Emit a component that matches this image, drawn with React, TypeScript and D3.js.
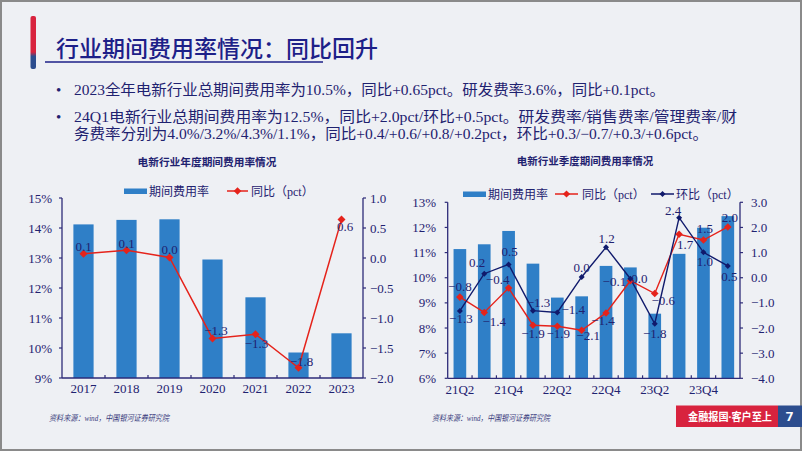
import React from 'react';
import * as d3 from 'd3';

// ---------- data ----------
const years = ['2017', '2018', '2019', '2020', '2021', '2022', '2023'];
const annualRate = [14.12, 14.27, 14.29, 12.95, 11.69, 9.85, 10.49];
const annualYoY = [0.07, 0.13, 0.01, -1.34, -1.27, -1.83, 0.64];
const annualLeftTicks = [9, 10, 11, 12, 13, 14, 15];
const annualRightTicks = [-2, -1.5, -1, -0.5, 0, 0.5, 1];

const quarters = ['21Q2', '21Q3', '21Q4', '22Q1', '22Q2', '22Q3', '22Q4', '23Q1', '23Q2', '23Q3', '23Q4', '24Q1'];
const quarterTickLabels = ['21Q2', '21Q4', '22Q2', '22Q4', '23Q2', '23Q4'];
const qRate = [11.14, 11.33, 11.86, 10.56, 9.21, 9.26, 10.47, 10.41, 8.57, 10.95, 11.99, 12.45];
const qYoY = [-0.77, -1.38, -0.41, -1.89, -1.93, -2.09, -1.4, -0.12, -0.63, 1.73, 1.5, 2.02];
const qQoQ = [-1.32, 0.16, 0.53, -1.31, -1.38, 0.03, 1.21, -0.04, -1.83, 2.39, 1.01, 0.47];
const qLeftTicks = [6, 7, 8, 9, 10, 11, 12, 13];
const qRightTicks = [-4, -3, -2, -1, 0, 1, 2, 3];

// ---------- label placement (layout only) ----------
const annualLabelOffset: [number, number][] = [[0, -7], [0, -7], [0, -8], [3.5, -7.5], [1, 9], [3, -6.5], [3.5, 7]];
const qYoYLabelOffset: [number, number][] = [[0, -11], [10, 9.5], [-11, -9], [0, 8.5], [1, 7], [6.5, 5.5], [-3, 7.5], [-16, 1], [8.5, 6.5], [6, 10.5], [1.5, -11.5], [2, -9.5]];
const qQoQLabelOffset: [number, number][] = [[1, 7.5], [-7, -11.5], [1, -12.5], [5.5, -8], [16, -3], [0, -9.5], [0.5, -9], [9, 0], [0, 9.5], [-6, -7], [1.5, 9.5], [1.5, 10.5]];

// ---------- styles ----------
const BG = '#eef0f4';
const NAVY = '#1f2270';
const AXIS = '#2d2b78';
const BAR = '#2f7fc7';
const RED = '#e5231b';
const DARKBLUE = '#101a6c';
const SERIF = '"Liberation Serif", "Times New Roman", "Noto Sans CJK SC", serif';
const CJK = '"Liberation Serif", "Noto Sans CJK SC", sans-serif';
const fmt = d3.format('.1f');

function diamond(x: number, y: number, r: number) {
  return `M${x},${y - r}L${x + r},${y}L${x},${y + r}L${x - r},${y}Z`;
}

function AnnualChart() {
  const left = 62, right = 363, top = 198, bottom = 378;
  const x = d3.scaleBand<string>().domain(years).range([left, right]).paddingInner(0.53).paddingOuter(0.265);
  const yL = d3.scaleLinear().domain([9, 15]).range([bottom, top]);
  const yR = d3.scaleLinear().domain([-2, 1]).range([bottom, top]);
  const cx = (d: string) => (x(d) as number) + x.bandwidth() / 2;
  const line = d3.line<number>().x((_, i) => cx(years[i])).y(v => yR(v));
  const step = x.step();
  return (
    <g>
      <text x={207} y={165.5} textAnchor="middle" fontFamily={CJK} fontSize={10.7} fontWeight="bold" fill={NAVY}>电新行业年度期间费用率情况</text>
      {/* legend */}
      <rect x={124} y={188.5} width={23} height={5.5} fill={BAR} />
      <text x={149} y={195.5} fontFamily={CJK} fontSize={12} fill={NAVY}>期间费用率</text>
      <line x1={227} x2={248} y1={191} y2={191} stroke={RED} strokeWidth={1.5} />
      <path d={diamond(237.5, 191, 3.8)} fill={RED} />
      <text x={251} y={195.5} fontFamily={CJK} fontSize={12} fill={NAVY}>同比（pct）</text>
      {/* bars */}
      {years.map((d, i) => (
        <rect key={d} x={x(d)} y={yL(annualRate[i])} width={x.bandwidth()} height={bottom - yL(annualRate[i])} fill={BAR} />
      ))}
      {/* axes */}
      <line x1={left} x2={left} y1={top} y2={bottom} stroke={AXIS} strokeWidth={1.3} />
      <line x1={right} x2={right} y1={top} y2={bottom} stroke={AXIS} strokeWidth={1.3} />
      <line x1={left} x2={right} y1={bottom} y2={bottom} stroke={AXIS} strokeWidth={1.3} />
      {annualLeftTicks.map(t => (
        <g key={'l' + t}>
          <line x1={left - 3} x2={left} y1={yL(t)} y2={yL(t)} stroke={AXIS} strokeWidth={1.2} />
          <text x={52} y={yL(t)} dy="0.35em" textAnchor="end" fontFamily={SERIF} fontSize={13} fill={NAVY}>{t}%</text>
        </g>
      ))}
      {annualRightTicks.map(t => (
        <g key={'r' + t}>
          <line x1={right} x2={right + 3} y1={yR(t)} y2={yR(t)} stroke={AXIS} strokeWidth={1.2} />
          <text x={370} y={yR(t)} dy="0.35em" fontFamily={SERIF} fontSize={13} fill={NAVY}>{fmt(t)}</text>
        </g>
      ))}
      {years.slice(1).map((d, i) => (
        <line key={'bt' + d} x1={left + step * (i + 1)} x2={left + step * (i + 1)} y1={bottom} y2={bottom - 3} stroke={AXIS} strokeWidth={1.2} />
      ))}
      {years.map(d => (
        <text key={'xl' + d} x={cx(d)} y={392.5} textAnchor="middle" fontFamily={SERIF} fontSize={13} fill={NAVY}>{d}</text>
      ))}
      {/* line */}
      <path d={line(annualYoY) as string} fill="none" stroke={RED} strokeWidth={1.5} />
      {annualYoY.map((v, i) => (
        <path key={'dm' + i} d={diamond(cx(years[i]), yR(v), 4)} fill={RED} />
      ))}
      {annualYoY.map((v, i) => (
        <text key={'lb' + i} x={cx(years[i]) + annualLabelOffset[i][0]} y={yR(v) + annualLabelOffset[i][1]} dy="0.35em" textAnchor="middle" fontFamily={SERIF} fontSize={13} fill={NAVY}>{fmt(v)}</text>
      ))}
    </g>
  );
}

function QuarterChart() {
  const left = 447.7, right = 740, top = 202.3, bottom = 378.3;
  const x = d3.scaleBand<string>().domain(quarters).range([left, right]).paddingInner(0.48).paddingOuter(0.24);
  const yL = d3.scaleLinear().domain([6, 13]).range([bottom, top]);
  const yR = d3.scaleLinear().domain([-4, 3]).range([bottom, top]);
  const cx = (d: string) => (x(d) as number) + x.bandwidth() / 2;
  const line = d3.line<number>().x((_, i) => cx(quarters[i])).y(v => yR(v));
  const step = x.step();
  return (
    <g>
      <text x={585} y={165} textAnchor="middle" fontFamily={CJK} fontSize={10.5} fontWeight="bold" fill={NAVY}>电新行业季度期间费用率情况</text>
      {/* legend */}
      <rect x={463} y={191.5} width={23} height={5.5} fill={BAR} />
      <text x={488} y={198.5} fontFamily={CJK} fontSize={12} fill={NAVY}>期间费用率</text>
      <line x1={555} x2={578} y1={194} y2={194} stroke={RED} strokeWidth={1.5} />
      <path d={diamond(566.5, 194, 3.6)} fill={RED} />
      <text x={582} y={198.5} fontFamily={CJK} fontSize={12} fill={NAVY}>同比（pct）</text>
      <line x1={651} x2={674} y1={194} y2={194} stroke={DARKBLUE} strokeWidth={1.5} />
      <path d={diamond(662.5, 194, 3)} fill={DARKBLUE} />
      <text x={676} y={198.5} fontFamily={CJK} fontSize={12} fill={NAVY}>环比（pct）</text>
      {/* bars */}
      {quarters.map((d, i) => (
        <rect key={d} x={x(d)} y={yL(qRate[i])} width={x.bandwidth()} height={bottom - yL(qRate[i])} fill={BAR} />
      ))}
      {/* axes */}
      <line x1={left} x2={left} y1={top} y2={bottom} stroke={AXIS} strokeWidth={1.3} />
      <line x1={right} x2={right} y1={top} y2={bottom} stroke={AXIS} strokeWidth={1.3} />
      <line x1={left} x2={right} y1={bottom} y2={bottom} stroke={AXIS} strokeWidth={1.3} />
      {qLeftTicks.map(t => (
        <g key={'l' + t}>
          <line x1={left - 3} x2={left} y1={yL(t)} y2={yL(t)} stroke={AXIS} strokeWidth={1.2} />
          <text x={436} y={yL(t)} dy="0.35em" textAnchor="end" fontFamily={SERIF} fontSize={13} fill={NAVY}>{t}%</text>
        </g>
      ))}
      {qRightTicks.map(t => (
        <g key={'r' + t}>
          <line x1={right} x2={right + 3} y1={yR(t)} y2={yR(t)} stroke={AXIS} strokeWidth={1.2} />
          <text x={751} y={yR(t)} dy="0.35em" fontFamily={SERIF} fontSize={13} fill={NAVY}>{fmt(t)}</text>
        </g>
      ))}
      {quarters.slice(1).map((d, i) => (
        <line key={'bt' + d} x1={left + step * (i + 1)} x2={left + step * (i + 1)} y1={bottom} y2={bottom - 3} stroke={AXIS} strokeWidth={1.2} />
      ))}
      {quarterTickLabels.map(d => (
        <text key={'xl' + d} x={cx(d)} y={394} textAnchor="middle" fontFamily={SERIF} fontSize={13} fill={NAVY}>{d}</text>
      ))}
      {/* lines */}
      <path d={line(qYoY) as string} fill="none" stroke={RED} strokeWidth={1.4} />
      <path d={line(qQoQ) as string} fill="none" stroke={DARKBLUE} strokeWidth={1.4} />
      {qYoY.map((v, i) => (
        <path key={'dy' + i} d={diamond(cx(quarters[i]), yR(v), 3.8)} fill={RED} />
      ))}
      {qQoQ.map((v, i) => (
        <path key={'dq' + i} d={diamond(cx(quarters[i]), yR(v), 3)} fill={DARKBLUE} />
      ))}
      {qYoY.map((v, i) => (
        <text key={'ly' + i} x={cx(quarters[i]) + qYoYLabelOffset[i][0]} y={yR(v) + qYoYLabelOffset[i][1]} dy="0.35em" textAnchor="middle" fontFamily={SERIF} fontSize={13} fill={NAVY}>{fmt(v)}</text>
      ))}
      {qQoQ.map((v, i) => (
        <text key={'lq' + i} x={cx(quarters[i]) + qQoQLabelOffset[i][0]} y={yR(v) + qQoQLabelOffset[i][1]} dy="0.35em" textAnchor="middle" fontFamily={SERIF} fontSize={13} fill={NAVY}>{fmt(v)}</text>
      ))}
    </g>
  );
}

export default function App() {
  return (
    <svg width={802} height={451} viewBox="0 0 802 451" style={{ position: 'absolute', left: 0, top: 0, display: 'block' }}>
      <defs>
        <linearGradient id="accent" x1="0" y1="0" x2="0" y2="1">
          <stop offset="0" stopColor="#d8233e" />
          <stop offset="0.68" stopColor="#d8233e" />
          <stop offset="0.76" stopColor="#2c4d8e" />
          <stop offset="1" stopColor="#2c4d8e" />
        </linearGradient>
      </defs>
      <rect x={0} y={0} width={802} height={451} fill={BG} />
      <rect x={1} y={1} width={800} height={449} fill="none" stroke="#8a8a8a" strokeWidth={2} />
      {/* header */}
      <rect x={30.5} y={16} width={5.5} height={53} rx={2} fill="url(#accent)" />
      <text x={56} y={57} fontFamily='"Noto Sans CJK SC", sans-serif' fontSize={23} fontWeight={500} fill="#1d2088" textLength={322} lengthAdjust="spacingAndGlyphs">行业期间费用率情况：同比回升</text>
      <line x1={45} x2={323} y1={62} y2={62} stroke="#1d2088" strokeWidth={1.5} />
      {/* bullets */}
      <text x={56} y={95} fontFamily={SERIF} fontSize={15} fill={NAVY}>•</text>
      <text x={74} y={95} fontFamily={CJK} fontSize={15} fill={NAVY} textLength={591} lengthAdjust="spacingAndGlyphs">2023全年电新行业总期间费用率为10.5%，同比+0.65pct。研发费率3.6%，同比+0.1pct。</text>
      <text x={56} y={122} fontFamily={SERIF} fontSize={15} fill={NAVY}>•</text>
      <text x={74} y={122} fontFamily={CJK} fontSize={15} fill={NAVY} textLength={663} lengthAdjust="spacingAndGlyphs">24Q1电新行业总期间费用率为12.5%，同比+2.0pct/环比+0.5pct。研发费率/销售费率/管理费率/财</text>
      <text x={74} y={138.5} fontFamily={CJK} fontSize={15} fill={NAVY} textLength={634} lengthAdjust="spacingAndGlyphs">务费率分别为4.0%/3.2%/4.3%/1.1%，同比+0.4/+0.6/+0.8/+0.2pct，环比+0.3/−0.7/+0.3/+0.6pct。</text>

      <AnnualChart />
      <QuarterChart />

      {/* footers */}
      <text x={49} y={421} fontFamily={CJK} fontSize={8.5} fontStyle="italic" fill="#3b3d7e" textLength={120} lengthAdjust="spacingAndGlyphs">资料来源：wind，中国银河证券研究院</text>
      <text x={432} y={421} fontFamily={CJK} fontSize={8.5} fontStyle="italic" fill="#3b3d7e" textLength={118} lengthAdjust="spacingAndGlyphs">资料来源：wind，中国银河证券研究院</text>
      <rect x={676} y={405.5} width={102} height={21.5} fill="#d8233e" />
      <rect x={778} y={405.5} width={24} height={21.5} fill="#2c4d8e" />
      <text x={688} y={420.5} fontFamily='"Noto Sans", "Noto Sans CJK SC", sans-serif' fontSize={11} fontWeight="bold" fill="#ffffff" textLength={84} lengthAdjust="spacingAndGlyphs">金融报国·客户至上</text>
      <text x={789.5} y={421} textAnchor="middle" fontFamily='"Noto Sans", sans-serif' fontSize={13} fontWeight="bold" fill="#ffffff">7</text>
    </svg>
  );
}
